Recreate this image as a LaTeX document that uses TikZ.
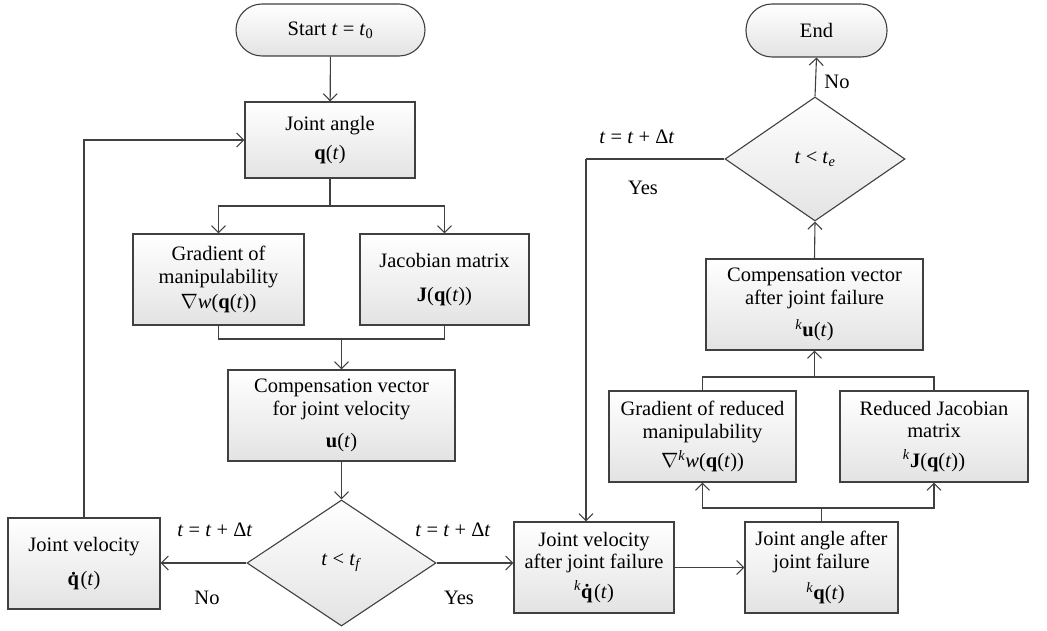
\documentclass[tikz,border=0pt]{standalone}
\usepackage{fontspec}
\setmainfont{Liberation Serif}
\usetikzlibrary{arrows.meta,shapes.geometric,calc}
\definecolor{ln}{HTML}{404040}
\newcommand{\ti}[1]{\textit{#1}}
\newcommand{\tb}[1]{\textbf{#1}}
\newcommand{\kk}{\textsuperscript{\textit{k}}}
\tikzset{
  box/.style={draw=ln, line width=1.1pt, top color=white, bottom color=black!11, shading angle=0, align=center, inner sep=2pt, font=\fontsize{20.5}{22.5}\selectfont},
  pill/.style={box, rounded corners=26pt},
  dec/.style={box, shape=diamond, inner sep=0pt},
  lbl/.style={font=\fontsize{20.5}{22.5}\selectfont, inner sep=0pt},
  arr/.style={draw=ln, line width=1.1pt, -{Straight Barb[length=7pt,width=14pt,line width=1.1pt]}},
  con/.style={draw=ln, line width=1.1pt}
}
\begin{document}
\begin{tikzpicture}[x=1pt,y=-1pt]
\useasboundingbox (0,0) rectangle (1047,631);
% left part
\node[pill, minimum width=189, minimum height=52] (start) at (330.5,30) {Start \ti{t} = \ti{t}\textsubscript{0}};
\node[box, minimum width=170, minimum height=76] (ja) at (330,140) {Joint angle\\[6pt]\tb{q}(\ti{t})};
\node[box, minimum width=171, minimum height=91] (grad) at (218.5,279.5) {Gradient of\\manipulability\\[3pt]$\nabla$\ti{w}(\tb{q}(\ti{t}))};
\node[box, minimum width=169, minimum height=91] (jac) at (444.5,279.5) {Jacobian matrix\\[12pt]\tb{J}(\tb{q}(\ti{t}))};
\node[box, minimum width=227, minimum height=91] (comp) at (341.5,415.5) {Compensation vector\\for joint velocity\\[10pt]\tb{u}(\ti{t})};
\node[dec, minimum width=189, minimum height=126] (d1) at (341.5,563) {\ti{t} < \ti{t}\textsubscript{\ti{f}}};
\node[box, minimum width=152, minimum height=91] (jv) at (84,563.5) {Joint velocity\\[12pt]\tb{\.q}(\ti{t})};
% right part
\node[box, minimum width=160, minimum height=91] (jvf) at (594,567.5) {Joint velocity\\after joint failure\\[7pt]\kk\tb{\.q}(\ti{t})};
\node[box, minimum width=153, minimum height=91] (jaf) at (821.5,567.5) {Joint angle after\\joint failure\\[9pt]\hspace*{8pt}\kk\tb{q}(\ti{t})};
\node[box, minimum width=187, minimum height=91] (gradr) at (702.5,436.5) {Gradient of reduced\\manipulability\\[7pt]$\nabla$\kk\ti{w}(\tb{q}(\ti{t}))};
\node[box, minimum width=188, minimum height=91] (rjac) at (934,436.5) {Reduced Jacobian\\matrix\\[7pt]\kk\tb{J}(\tb{q}(\ti{t}))};
\node[box, minimum width=217, minimum height=91] (compf) at (814.5,304.5) {Compensation vector\\after joint failure\\[10pt]\kk\tb{u}(\ti{t})};
\node[dec, minimum width=180, minimum height=124] (d2) at (815,159) {\ti{t} < \ti{t}\textsubscript{\ti{e}}};
\node[pill, minimum width=141, minimum height=53] (end) at (816.5,30.5) {End};
% labels
\node[lbl] (l1) at (215,530) {\ti{t} = \ti{t} + Δ\ti{t}};
\node[lbl] (l2) at (207,598) {No};
\node[lbl] (l3) at (453,530) {\ti{t} = \ti{t} + Δ\ti{t}};
\node[lbl] (l4) at (459,598) {Yes};
\node[lbl] (l5) at (637,137) {\ti{t} = \ti{t} + Δ\ti{t}};
\node[lbl] (l6) at (643,188) {Yes};
\node[lbl] (l7) at (837,82) {No};
% coordinates
\coordinate (s1) at (330,206);
\coordinate (m1) at (341.5,339);
\coordinate (s2) at (821.5,508);
\coordinate (m2) at (814.5,377);
\coordinate (yk) at (586,159);
% connectors
\draw[arr] (start) -- (ja);
\draw[con] (ja.south) -- (s1);
\draw[arr] (s1) -| (grad.north);
\draw[arr] (s1) -| (jac.north);
\draw[con] (grad.south) |- (jac.south |- m1) -- (jac.south);
\draw[arr] (m1) -- (comp.north);
\draw[arr] (comp.south) -- (d1.north);
\draw[arr] (d1.west) -- (jv.east |- d1.west);
\draw[arr] (jv.north) |- (ja.west);
\draw[arr] (d1.east) -- (jvf.west |- d1.east);
\draw[arr] (jvf.east) -- (jaf.west);
\draw[con] (jaf.north) -- (s2);
\draw[arr] (s2) -| (gradr.south);
\draw[arr] (s2) -| (rjac.south);
\draw[con] (gradr.north) |- (rjac.north |- m2) -- (rjac.north);
\draw[arr] (m2) -- (compf.south);
\draw[arr] (compf.north) -- (d2.south);
\draw[arr] (d2.north) -- (end.south);
\draw[con] (d2.west) -- (yk);
\draw[arr] (yk) -- (yk |- jvf.north);
\end{tikzpicture}
\end{document}
